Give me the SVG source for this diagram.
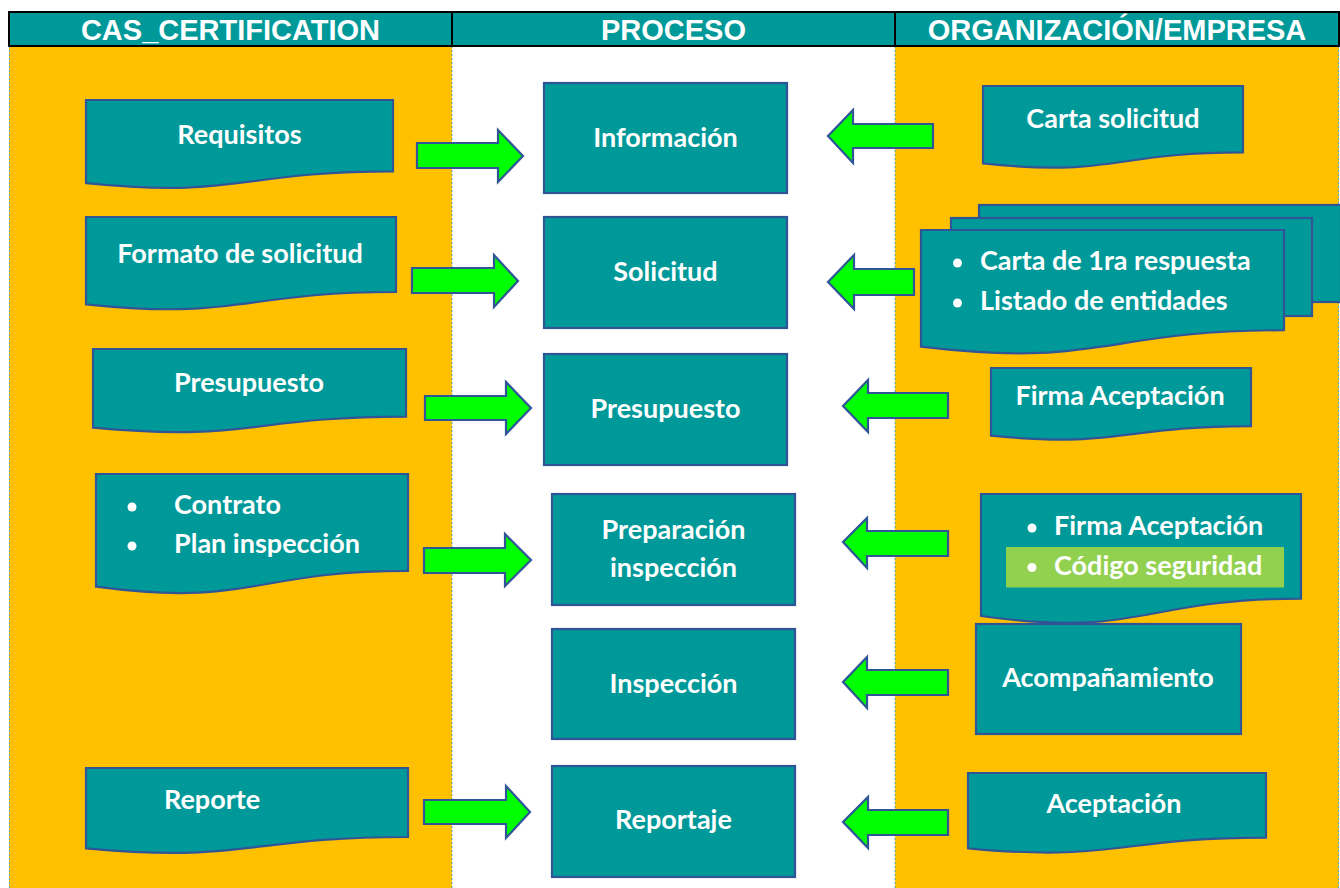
<svg xmlns="http://www.w3.org/2000/svg" width="1340" height="888" viewBox="0 0 1340 888">
<style>
.lane{fill:#FFC000}
.hdr{fill:#009999;stroke:#000;stroke-width:2}
.ht{font-family:"Liberation Sans",Arial,sans-serif;font-weight:bold;font-size:29px;fill:#fff;text-anchor:middle}
.box{fill:#009999;stroke:#2F5597;stroke-width:2.2}
.t{font-family:Lato,"Open Sans",sans-serif;font-weight:bold;font-size:27px;fill:#fff}
.c{text-anchor:middle}
.bul{fill:#fff}
.arr{fill:#00FF00;stroke:#2F5597;stroke-width:2.2;stroke-linejoin:miter}
.div{stroke:#4BACC6;stroke-width:1;stroke-dasharray:2 2;fill:none}
</style>
<rect width="1340" height="888" fill="#fff"/>
<g id="lanes">
<rect class="lane" x="9" y="46" width="443" height="842"/>
<rect class="lane" x="895" y="46" width="444" height="842"/>
<path class="div" d="M9.5 46V888M452 46V888M895 46V888M1338.5 46V888"/>
<rect class="hdr" x="9" y="12" width="443" height="34"/>
<rect class="hdr" x="452" y="12" width="443" height="34"/>
<rect class="hdr" x="895" y="12" width="444" height="34"/>
<text class="ht" x="230.5" y="40">CAS_CERTIFICATION</text>
<text class="ht" x="673.5" y="40">PROCESO</text>
<text class="ht" x="1117" y="40">ORGANIZACIÓN/EMPRESA</text>
</g>
<g id="connectors">
<polygon class="arr" points="417,143 498,143 498,130 523,156 498,182 498,168 417,168"/>
<polygon class="arr" points="412,268 494,268 494,255 518,281 494,307 494,293 412,293"/>
<polygon class="arr" points="425,396 506,396 506,382 531,408 506,434 506,420 425,420"/>
<polygon class="arr" points="424,548 505,548 505,534 531,560 505,586 505,573 424,573"/>
<polygon class="arr" points="424,800 506,800 506,786 530,812 506,838 506,824 424,824"/>
<polygon class="arr" points="933,124 853,124 853,110 828,136 853,163 853,148 933,148"/>
<polygon class="arr" points="914,269 854,269 854,255 828,282 854,309 854,295 914,295"/>
<polygon class="arr" points="948,393 868,393 868,380 843,406 868,432 868,418 948,418"/>
<polygon class="arr" points="948,531 867,531 867,518 843,542 867,568 867,556 948,556"/>
<polygon class="arr" points="948,670 867,670 867,657 843,682 867,708 867,695 948,695"/>
<polygon class="arr" points="948,810 868,810 868,797 843,822 868,848 868,835 948,835"/>
</g>
<g id="requisitos">
<path class="box" d="M86 100H393V171.4C239.5 171.4 239.5 198.6 86 183.1Z"/>
<text class="t c" x="239.5" y="144">Requisitos</text>
</g>
<g id="formato-solicitud">
<path class="box" d="M86 217H396V292C241 292 241 320.5 86 304.3Z"/>
<text class="t c" x="240" y="263">Formato de solicitud</text>
</g>
<g id="presupuesto-cas">
<path class="box" d="M93 349H406V416.6C249.5 416.6 249.5 442.3 93 427.7Z"/>
<text class="t c" x="249" y="392">Presupuesto</text>
</g>
<g id="contrato-plan">
<path class="box" d="M96 474H408V570.8C252 570.8 252 607.6 96 586.7Z"/>
<circle class="bul" cx="132" cy="507" r="4.5"/>
<circle class="bul" cx="132" cy="546" r="4.5"/>
<text class="t" x="174" y="514">Contrato</text>
<text class="t" x="174" y="553">Plan inspección</text>
</g>
<g id="reporte">
<path class="box" d="M86 768H408V837C247 837 247 863.2 86 848.3Z"/>
<text class="t" x="164" y="809">Reporte</text>
</g>
<g id="informacion">
<rect class="box" x="544" y="83" width="243" height="110"/>
<text class="t c" x="665.5" y="147">Información</text>
</g>
<g id="solicitud">
<rect class="box" x="544" y="217" width="243" height="111"/>
<text class="t c" x="665.5" y="281">Solicitud</text>
</g>
<g id="presupuesto">
<rect class="box" x="544" y="354" width="243" height="111"/>
<text class="t c" x="665.5" y="418">Presupuesto</text>
</g>
<g id="preparacion-inspeccion">
<rect class="box" x="552" y="494" width="243" height="111"/>
<text class="t c" x="673.5" y="539">Preparación</text>
<text class="t c" x="673.5" y="577">inspección</text>
</g>
<g id="inspeccion">
<rect class="box" x="552" y="629" width="243" height="110"/>
<text class="t c" x="673.5" y="693">Inspección</text>
</g>
<g id="reportaje">
<rect class="box" x="552" y="766" width="243" height="111"/>
<text class="t c" x="673.5" y="829">Reportaje</text>
</g>
<g id="carta-solicitud">
<path class="box" d="M983 86H1243V152.4C1113 152.4 1113 177.7 983 163.3Z"/>
<text class="t c" x="1113" y="128">Carta solicitud</text>
</g>
<g id="carta-respuesta-listado">
<rect class="box" x="979" y="205" width="362" height="97"/>
<rect class="box" x="951" y="218" width="361" height="98"/>
<path class="box" d="M921 230H1284V330.2C1102.5 330.2 1102.5 368.4 921 346.7Z"/>
<circle class="bul" cx="957.5" cy="263" r="4.5"/>
<circle class="bul" cx="957.5" cy="303" r="4.5"/>
<text class="t" x="980" y="270">Carta de 1ra respuesta</text>
<text class="t" x="980" y="310">Listado de entidades</text>
</g>
<g id="firma-aceptacion">
<path class="box" d="M991 368H1251V426.1C1121 426.1 1121 448.3 991 435.7Z"/>
<text class="t c" x="1120" y="405">Firma Aceptación</text>
</g>
<g id="firma-codigo">
<path class="box" d="M981 494H1301V598.7C1141 598.7 1141 638.6 981 616Z"/>
<rect x="1006" y="547" width="278" height="40.5" fill="#92D050"/>
<circle class="bul" cx="1032" cy="528" r="4.5"/>
<circle class="bul" cx="1032" cy="567.5" r="4.5"/>
<text class="t" x="1054" y="535">Firma Aceptación</text>
<text class="t" x="1054" y="575">Código seguridad</text>
</g>
<g id="acompanamiento">
<rect class="box" x="976" y="624" width="265" height="110"/>
<text class="t c" x="1108" y="687">Acompañamiento</text>
</g>
<g id="aceptacion">
<path class="box" d="M968 773H1266V837.6C1117 837.6 1117 862.2 968 848.3Z"/>
<text class="t c" x="1114" y="813">Aceptación</text>
</g>
</svg>
